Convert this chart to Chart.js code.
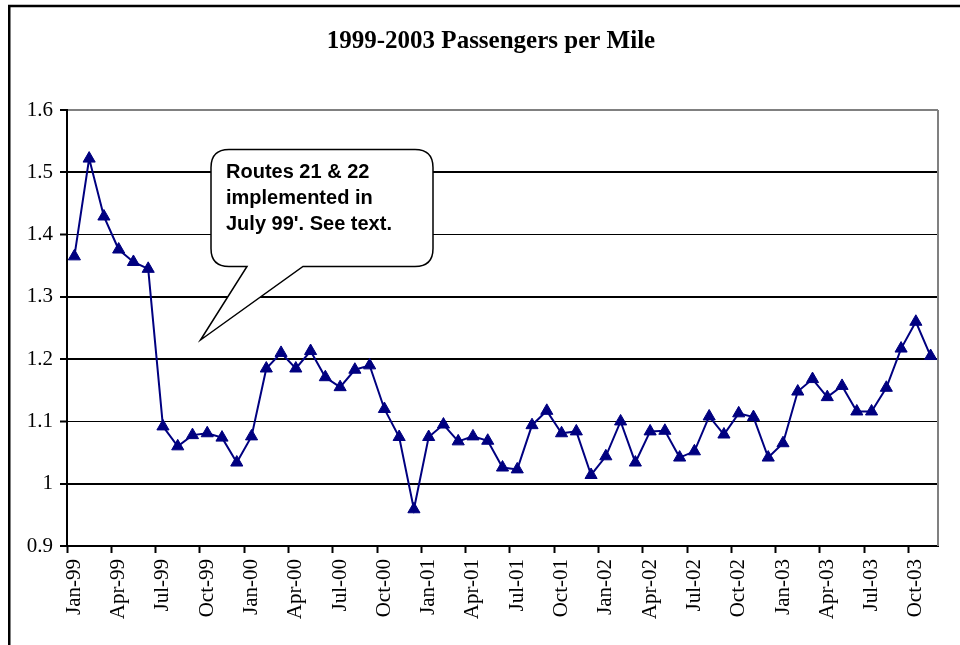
<!DOCTYPE html>
<html>
<head>
<meta charset="utf-8">
<script src="https://cdn.jsdelivr.net/npm/chart.js@4/dist/chart.umd.min.js"></script>
<style>
  html, body { margin: 0; padding: 0; background: #fff; }
  #wrap { width: 960px; height: 645px; position: relative; }
</style>
</head>
<body>
<div id="wrap"><canvas id="c" width="960" height="645"></canvas></div>
<script>
const chartTitle = '1999-2003 Passengers per Mile';
const months = [
  'Jan-99','Feb-99','Mar-99','Apr-99','May-99','Jun-99','Jul-99','Aug-99','Sep-99','Oct-99','Nov-99','Dec-99',
  'Jan-00','Feb-00','Mar-00','Apr-00','May-00','Jun-00','Jul-00','Aug-00','Sep-00','Oct-00','Nov-00','Dec-00',
  'Jan-01','Feb-01','Mar-01','Apr-01','May-01','Jun-01','Jul-01','Aug-01','Sep-01','Oct-01','Nov-01','Dec-01',
  'Jan-02','Feb-02','Mar-02','Apr-02','May-02','Jun-02','Jul-02','Aug-02','Sep-02','Oct-02','Nov-02','Dec-02',
  'Jan-03','Feb-03','Mar-03','Apr-03','May-03','Jun-03','Jul-03','Aug-03','Sep-03','Oct-03','Nov-03'
];
const passengersPerMile = [
  1.365, 1.522, 1.429, 1.376, 1.356, 1.345, 1.092, 1.060, 1.078, 1.081, 1.074, 1.034,
  1.076, 1.185, 1.210, 1.185, 1.213, 1.171, 1.155, 1.183, 1.190, 1.120, 1.075, 0.959,
  1.075, 1.095, 1.068, 1.076, 1.069, 1.026, 1.023, 1.094, 1.117, 1.081, 1.084, 1.014,
  1.044, 1.100, 1.034, 1.084, 1.085, 1.042, 1.052, 1.108, 1.079, 1.113, 1.107, 1.042,
  1.065, 1.148, 1.168, 1.139, 1.157, 1.116, 1.116, 1.154, 1.217, 1.260, 1.205
];
const yMin = 0.9, yMax = 1.6, yStep = 0.1;
const calloutLines = ['Routes 21 & 22', 'implemented in', "July 99'. See text."];

const serif = '"Liberation Serif", "Times New Roman", Times, serif';
const sans = '"Liberation Sans", Arial, Helvetica, sans-serif';

const decorPlugin = {
  id: 'decor',
  beforeDraw(chart) {
    const ctx = chart.ctx;
    ctx.save();
    ctx.fillStyle = '#fff';
    ctx.fillRect(0, 0, chart.width, chart.height);
    ctx.strokeStyle = '#000';
    ctx.lineWidth = 2.5;
    ctx.strokeRect(9.25, 6, 1000, 1000);
    ctx.fillStyle = '#000';
    ctx.font = 'bold 25px ' + serif;
    ctx.textAlign = 'center';
    ctx.textBaseline = 'middle';
    ctx.fillText(chartTitle, 491, 42);
    ctx.restore();
  },
  afterDatasetsDraw(chart) {
    const ctx = chart.ctx;
    const a = chart.chartArea;
    ctx.save();
    ctx.strokeStyle = '#808080';
    ctx.lineWidth = 2;
    ctx.beginPath();
    ctx.moveTo(a.right, a.top);
    ctx.lineTo(a.right, a.bottom);
    ctx.stroke();

    const x0 = a.left + 144, x1 = a.left + 366;
    const y0 = a.top + 39.5, y1 = a.top + 156.5;
    const r = 18;
    const w1 = a.left + 236, w0 = a.left + 180;
    const tx = a.left + 133.5, ty = a.top + 230;
    ctx.beginPath();
    ctx.moveTo(x0 + r, y0);
    ctx.lineTo(x1 - r, y0);
    ctx.quadraticCurveTo(x1, y0, x1, y0 + r);
    ctx.lineTo(x1, y1 - r);
    ctx.quadraticCurveTo(x1, y1, x1 - r, y1);
    ctx.lineTo(w1, y1);
    ctx.lineTo(tx, ty);
    ctx.lineTo(w0, y1);
    ctx.lineTo(x0 + r, y1);
    ctx.quadraticCurveTo(x0, y1, x0, y1 - r);
    ctx.lineTo(x0, y0 + r);
    ctx.quadraticCurveTo(x0, y0, x0 + r, y0);
    ctx.closePath();
    ctx.fillStyle = '#fff';
    ctx.fill();
    ctx.strokeStyle = '#000';
    ctx.lineWidth = 1.5;
    ctx.stroke();

    ctx.fillStyle = '#000';
    ctx.font = 'bold 20px ' + sans;
    ctx.textAlign = 'left';
    ctx.textBaseline = 'alphabetic';
    calloutLines.forEach((t, i) => ctx.fillText(t, x0 + 15, y0 + 28 + i * 26));
    ctx.restore();
  }
};

new Chart(document.getElementById('c'), {
  type: 'line',
  data: {
    labels: months,
    datasets: [{
      data: passengersPerMile,
      borderColor: '#000080',
      backgroundColor: '#000080',
      borderWidth: 2,
      pointStyle: 'triangle',
      pointRadius: 7,
      pointHoverRadius: 7,
      pointBackgroundColor: '#000080',
      pointBorderColor: '#000080',
      pointBorderWidth: 1,
      tension: 0,
      fill: false
    }]
  },
  options: {
    responsive: false,
    animation: false,
    events: [],
    layout: { padding: { top: 110, right: 22, left: 0, bottom: 0 } },
    plugins: { legend: { display: false }, title: { display: false }, tooltip: { enabled: false } },
    scales: {
      x: {
        type: 'category',
        offset: true,
        afterFit(scale) { scale.height = 99; scale.paddingLeft = 0; scale.paddingRight = 0; },
        grid: {
          offset: true,
          drawOnChartArea: false,
          drawTicks: true,
          tickLength: 7,
          tickColor: (c) => (c.index % 3 === 0 ? '#000' : 'rgba(0,0,0,0)'),
          tickWidth: 2
        },
        border: { display: true, color: '#000', width: 2 },
        ticks: {
          autoSkip: false,
          maxRotation: 90,
          minRotation: 90,
          padding: 6,
          color: '#000',
          font: { family: serif, size: 21 },
          callback: (v, i) => (i % 3 === 0 ? months[i] : '')
        }
      },
      y: {
        min: yMin,
        max: yMax,
        afterFit(scale) { scale.width = 67; },
        grid: {
          color: (c) => (c.tick && Math.abs(c.tick.value - yMax) < 1e-6 ? '#808080' : '#000'),
          lineWidth: (c) => {
            if (!c.tick) return 1;
            const v = Math.round(c.tick.value * 10) / 10;
            return (v === 1.4 || v === 1.1) ? 1 : 2;
          },
          tickLength: 7,
          tickColor: '#000',
          tickWidth: 2
        },
        border: { display: true, color: '#000', width: 2 },
        ticks: {
          stepSize: yStep,
          padding: 7,
          color: '#000',
          font: { family: serif, size: 21 },
          callback: (v) => String(Math.round(v * 10) / 10)
        }
      }
    }
  },
  plugins: [decorPlugin]
});
</script>
</body>
</html>
